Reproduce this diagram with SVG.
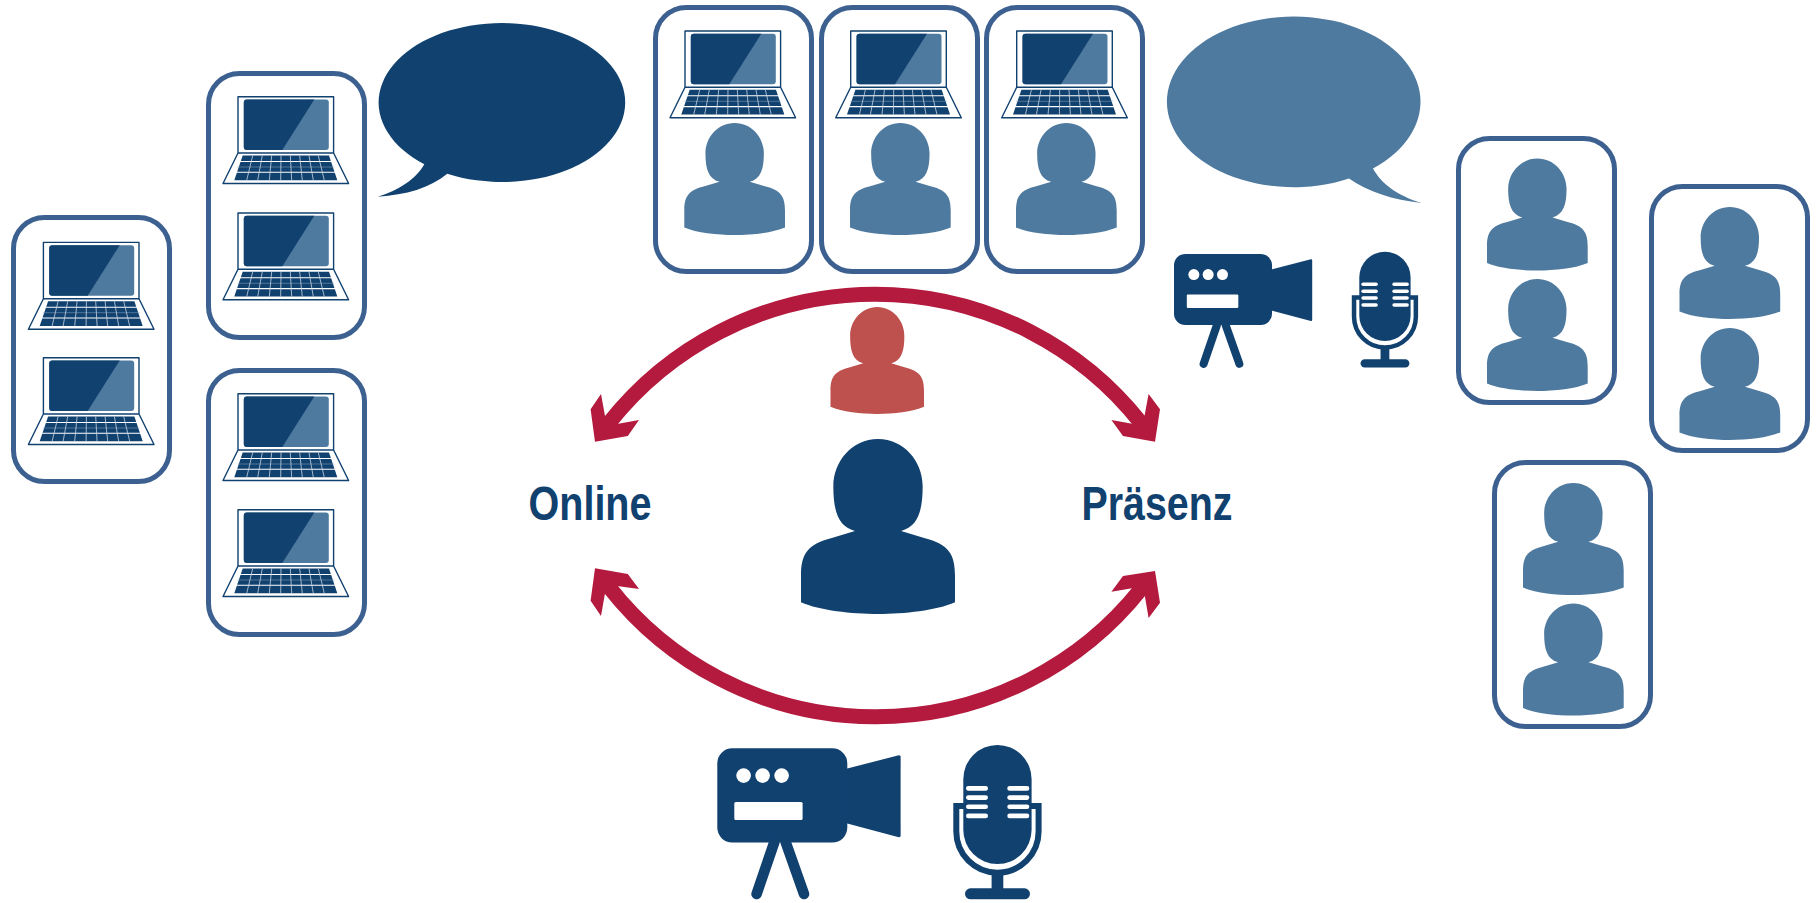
<svg xmlns="http://www.w3.org/2000/svg" width="1816" height="903" viewBox="0 0 1816 903">
<style>
.frame{fill:#fff;stroke:#3C6090;stroke-width:5}
.dark{fill:#11416F}
.light{fill:#4F7A9F}
.red{fill:#BE504D}
.wht{fill:#fff}
.arc{fill:none;stroke:#B31A3D;stroke-width:15}
.head{fill:#B31A3D}
.lbl{font-family:"Liberation Sans",Arial,sans-serif;font-weight:700;font-size:47.5px;fill:#11416F}
</style>
<defs>
<rect id="frame" class="frame" x="2.5" y="2.5" width="156" height="264" rx="31"/>
<path id="person" d="M50 0C33 0 21 13 21 27C21 41 24 50 35 52.5L20 56.5C4 60 0 66 0 78V93.3C12 98 33 100 50 100C67 100 88 98 100 93.3V78C100 66 96 60 80 56.5L65 52.5C76 50 79 41 79 27C79 13 67 0 50 0Z"/>
<g id="laptop">
<path d="M.7.7H96.3V57L111.3 87.5H-14.3L.7 57Z" fill="#fff" stroke="#11416F" stroke-width="1.4" stroke-linejoin="round"/>
<path d="M.7 57H96.3" stroke="#11416F" stroke-width="1.4"/>
<rect class="light" x="6.500" y="3.500" width="85" height="50.500" rx="3"/>
<path class="dark" d="M9.500 3.500H77L45 54H9.500Q6.500 54 6.500 51V6.500Q6.500 3.500 9.500 3.500Z"/>
<path class="dark" d="M5.400 59.500H91.700L100 84.300H-3Z"/>
<path d="M2 65.500H95M-1 76.300H99" stroke="#fff" stroke-width="1.100"/>
<path d="M0 71H97" stroke="#8FA8C0" stroke-width=".5"/>
<path d="M15.400 59.500L9.400 84.300M25 59.500L20.400 84.300M34.400 59.500L32 84.300M43.700 59.500L43.400 84.300M53 59.500L54.400 84.300M62.400 59.500L65 84.300M71.700 59.500L76 84.300M81 59.500L87 84.300" stroke="#C9D6E3" stroke-width=".8" fill="none"/>
</g>
<g id="camera" class="dark">
<rect width="130" height="94.300" rx="15"/>
<path d="M129 20.500L181.500 6.900Q183.300 6.600 183.300 8.500V87.200Q183.300 89.200 181.500 88.900L129 75Z"/>
<path d="M57 94L39.300 145.700M68.400 94L86.700 145.700" stroke="#11416F" stroke-width="10.600" stroke-linecap="round" fill="none"/>
<circle class="wht" cx="26.300" cy="27.300" r="7.300"/><circle class="wht" cx="45.300" cy="27.300" r="7.300"/><circle class="wht" cx="64.300" cy="27.300" r="7.300"/>
<rect class="wht" x="17" y="53.700" width="68.300" height="18" rx="1.500"/>
</g>
<g id="mic" class="dark">
<rect width="68.300" height="119" rx="34.150"/>
<path d="M1 61H-7V86.500A41.150 41.150 0 0 0 75.300 86.500V61H67.300" fill="none" stroke="#11416F" stroke-width="6"/>
<rect x="28.300" y="126" width="11.700" height="20"/>
<rect x="1.700" y="143.300" width="65" height="11" rx="5.500"/>
<g class="wht">
<rect x="2.700" y="41" width="22" height="4.700" rx="2.300"/><rect x="2.700" y="50.200" width="22" height="4.700" rx="2.300"/><rect x="2.700" y="59.400" width="22" height="4.700" rx="2.300"/><rect x="2.700" y="68.600" width="22" height="4.700" rx="2.300"/>
<rect x="44" y="41" width="22" height="4.700" rx="2.300"/><rect x="44" y="50.200" width="22" height="4.700" rx="2.300"/><rect x="44" y="59.400" width="22" height="4.700" rx="2.300"/><rect x="44" y="68.600" width="22" height="4.700" rx="2.300"/>
</g>
</g>
</defs>
<rect width="1816" height="903" fill="#fff"/>
<g id="box-online-1"><use href="#frame" x="11" y="215"/><use href="#laptop" x="42.700" y="241.700"/><use href="#laptop" x="42.700" y="357"/></g>
<g id="box-online-2"><use href="#frame" x="206" y="71"/><use href="#laptop" x="237.300" y="96"/><use href="#laptop" x="237.300" y="212.300"/></g>
<g id="box-online-3"><use href="#frame" x="206" y="368"/><use href="#laptop" x="237.300" y="393"/><use href="#laptop" x="237.300" y="509"/></g>
<g id="box-both-1"><use href="#frame" x="653" y="5"/><use href="#laptop" x="684.300" y="30.300"/><use href="#person" class="light" transform="translate(684.300 123) scale(1.007 1.12)"/></g>
<g id="box-both-2"><use href="#frame" x="819" y="5"/><use href="#laptop" x="850" y="30.300"/><use href="#person" class="light" transform="translate(850 123) scale(1.007 1.12)"/></g>
<g id="box-both-3"><use href="#frame" x="984" y="5"/><use href="#laptop" x="1016" y="30.300"/><use href="#person" class="light" transform="translate(1016 123) scale(1.007 1.12)"/></g>
<g id="box-presence-1"><use href="#frame" x="1456" y="136"/><use href="#person" class="light" transform="translate(1487 158.600) scale(1.007 1.12)"/><use href="#person" class="light" transform="translate(1487 279) scale(1.007 1.12)"/></g>
<g id="box-presence-2"><use href="#frame" x="1649" y="184"/><use href="#person" class="light" transform="translate(1679.500 207) scale(1.007 1.12)"/><use href="#person" class="light" transform="translate(1679.500 328) scale(1.007 1.12)"/></g>
<g id="box-presence-3"><use href="#frame" x="1492" y="460"/><use href="#person" class="light" transform="translate(1523 483) scale(1.007 1.12)"/><use href="#person" class="light" transform="translate(1523 603.500) scale(1.007 1.12)"/></g>
<g id="bubble-online"><path class="dark" d="M424.300 164.300A123.300 79.500 0 1 1 447.300 173.800C430 188 406 195 377.700 196.700C398 191 416 179 424.300 164.300Z"/></g>
<g id="bubble-presence"><path class="light" d="M1373 168.400A126.800 85.300 0 1 0 1349 178.600C1368 192 1393 200 1421.700 203C1396 195 1381 183 1373 168.400Z"/></g>
<g id="speaker-online"><use href="#person" class="red" transform="translate(830.500 307) scale(.935 1.07)"/></g>
<g id="teacher"><use href="#person" class="dark" transform="translate(801 439) scale(1.54 1.75)"/></g>
<g id="label-online"><text class="lbl" x="528.500" y="519.500" textLength="123" lengthAdjust="spacingAndGlyphs">Online</text></g>
<g id="label-praesenz"><text class="lbl" x="1081.500" y="519.500" textLength="151" lengthAdjust="spacingAndGlyphs">Präsenz</text></g>
<g id="camera-presence"><use href="#camera" transform="translate(1174 254) scale(.754)"/></g>
<g id="mic-presence"><use href="#mic" transform="translate(1359.300 251.700) scale(.751)"/></g>
<g id="camera-online"><use href="#camera" transform="translate(717.300 748.300)"/></g>
<g id="mic-online"><use href="#mic" transform="translate(963.300 745)"/></g>
<g id="connectors">
<path class="arc" d="M609 423A339 339 0 0 1 1141 423"/>
<path class="head" d="M595 441.700L590.600 409.300L601 394L605 416L617 424L639 420L627.800 436Z"/>
<path class="head" d="M1155 441.700L1160 409.300L1148.600 394L1144.500 416L1133.500 424L1111.400 420L1123 436Z"/>
<path class="arc" d="M609 587A339 339 0 0 0 1141 589"/>
<path class="head" d="M595 568.300L590.600 600.700L601 616L605 593.300L617 586L639 589L627.800 574Z"/>
<path class="head" d="M1155 571L1160 602.700L1148.600 618L1144.500 594L1133.500 588L1111.400 591.700L1123 576Z"/>
</g>
</svg>
